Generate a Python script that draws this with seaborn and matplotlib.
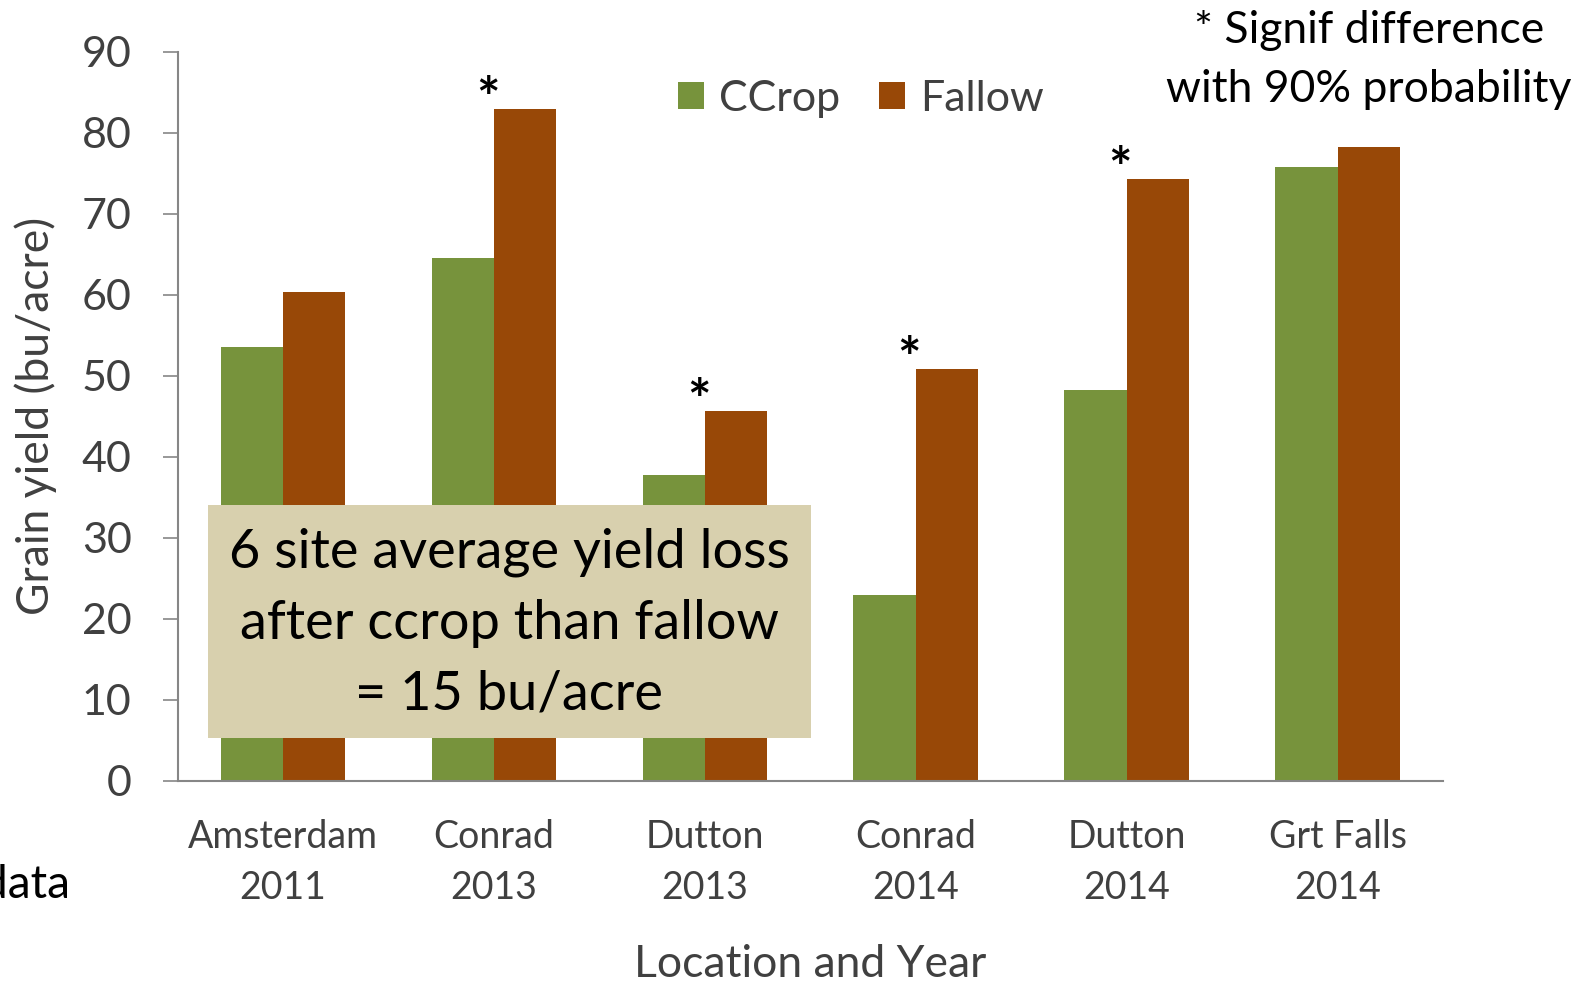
import matplotlib
matplotlib.use("Agg")
import matplotlib.pyplot as plt
from matplotlib.patches import Rectangle
import seaborn as sns
import pandas as pd

# data
sites = ["Amsterdam\n2011", "Conrad\n2013", "Dutton\n2013",
         "Conrad\n2014", "Dutton\n2014", "Grt Falls\n2014"]
ccrop = [53.6, 64.6, 37.8, 23.0, 48.2, 75.8]
fallow = [60.3, 82.9, 45.7, 50.8, 74.3, 78.2]
signif = [False, True, True, True, True, False]
yticks = [0, 10, 20, 30, 40, 50, 60, 70, 80, 90]

df = pd.DataFrame({
    "site": sites * 2,
    "yield": ccrop + fallow,
    "treat": ["CCrop"] * len(sites) + ["Fallow"] * len(sites),
})

sns.set_theme(style="white")
plt.rcParams["font.family"] = ["Lato", "DejaVu Sans"]

W, H = 1590, 982
fig = plt.figure(figsize=(W / 100, H / 100), dpi=100)
ax = fig.add_axes([177.5 / W, 1 - 781 / H, (1443 - 177.5) / W, (781 - 51.7) / H])

sns.barplot(data=df, x="site", y="yield", hue="treat", ax=ax,
            palette={"CCrop": "#77933C", "Fallow": "#984807"},
            width=0.59, gap=0, saturation=1, linewidth=0)

ax.set_ylim(0, 90)
ax.set_xlim(-0.5, len(sites) - 0.5)
ax.set_yticks(yticks)
ax.tick_params(axis="y", labelsize=31, colors="#404040", length=11, width=1.2,
               direction="out", pad=22, left=True, color="#868686")
ax.tick_params(axis="x", labelsize=27, colors="#404040", length=0, pad=27)
for lab in ax.get_xticklabels():
    lab.set_linespacing(1.55)
for s in ["top", "right"]:
    ax.spines[s].set_visible(False)
for s in ["left", "bottom"]:
    ax.spines[s].set_color("#868686")
    ax.spines[s].set_linewidth(1.5)

ax.set_ylabel("Grain yield (bu/acre)", fontsize=32, color="#404040")
ax.yaxis.set_label_coords(-0.095, 0.5)
ax.set_xlabel("Location and Year", fontsize=32, color="#404040", labelpad=27)

# significance asterisks
for i, (f, sg) in enumerate(zip(fallow, signif)):
    if sg:
        ax.text(i - 0.03, f - 1.0, "*", ha="center", va="baseline",
                fontsize=40, color="black", fontweight="bold")

# legend
h, l = ax.get_legend_handles_labels()
ax.legend(h, l, loc="center", bbox_to_anchor=(861 / W, 1 - 99 / H),
          bbox_transform=fig.transFigure, ncol=2, frameon=False,
          fontsize=31, handlelength=0.6, handleheight=0.6, handletextpad=0.35,
          columnspacing=0.9, labelcolor="#404040")

fig.text(1369 / W, 1 - 60 / H, "* Signif difference\nwith 90% probability",
         ha="center", va="center", fontsize=32, color="black", linespacing=1.55)

# summary box
fig.patches.append(Rectangle((208 / W, 1 - 738 / H), (811 - 208) / W, (738 - 505) / H,
                             transform=fig.transFigure, facecolor="#D8D0AE",
                             edgecolor="none", zorder=3))
fig.text(509 / W, 1 - 623 / H, "6 site average yield loss\nafter ccrop than fallow\n= 15 bu/acre",
         ha="center", va="center", fontsize=39, color="black", linespacing=1.54, zorder=4)

fig.text(70 / W, 1 - 885 / H, "data", ha="right", va="center", fontsize=33, color="black")

fig.savefig("out.png", dpi=100)
